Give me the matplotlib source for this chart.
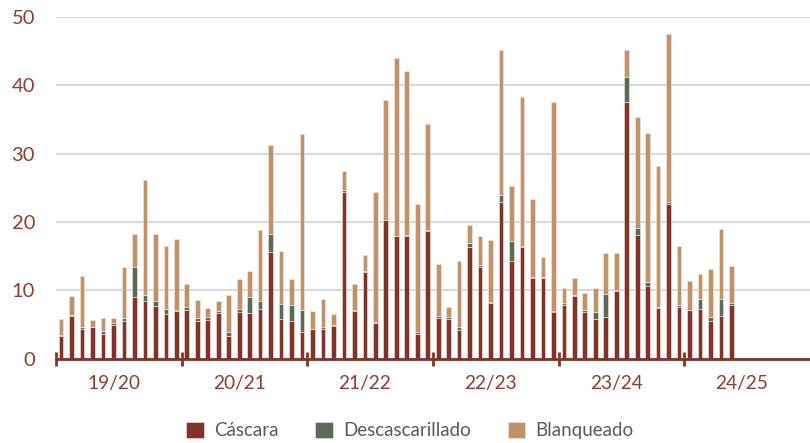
import numpy as np
import matplotlib.pyplot as plt

plt.rcParams['font.family'] = ['Lato', 'DejaVu Sans']

seasons = ['19/20', '20/21', '21/22', '22/23', '23/24', '24/25']
months_per_season = 12

cascara = [
    3.4, 6.2, 4.4, 4.6, 3.6, 5.0, 5.5, 9.0, 8.4, 7.7, 6.6, 7.0,
    7.2, 5.5, 5.7, 6.7, 3.3, 6.9, 6.7, 7.3, 15.6, 5.8, 5.5, 3.9,
    4.3, 4.4, 4.8, 24.4, 7.0, 12.7, 5.3, 20.25, 17.9, 18.0, 3.7, 18.7,
    5.9, 5.8, 4.2, 16.35, 13.4, 8.2, 23.0, 14.3, 16.35, 11.8, 11.85, 6.9,
    7.8, 9.2, 6.9, 5.8, 6.1, 9.95, 37.6, 18.15, 10.7, 7.45, 22.65, 7.6,
    7.1, 7.3, 5.5, 6.25, 7.8,
]
descascarillado = [
    0.1, 0.15, 0.3, 0.1, 0.4, 0.2, 0.5, 4.4, 0.9, 0.7, 0.7, 0.1,
    0.4, 0.4, 0.4, 0.25, 0.55, 0.4, 2.4, 1.2, 2.7, 2.15, 2.3, 3.3,
    0.1, 0.3, 0.1, 0.35, 0.1, 0.1, 0.1, 0.1, 0.1, 0.1, 0.25, 0.1,
    0.4, 0.25, 0.4, 0.55, 0.3, 0.1, 0.9, 2.9, 0.1, 0.1, 0.1, 0.05,
    0.3, 0.1, 0.3, 1.1, 3.4, 0.15, 3.6, 1.05, 0.6, 0.2, 0.35, 0.2,
    0.1, 1.4, 0.65, 2.55, 0.3,
]
blanqueado = [
    2.3, 2.85, 7.35, 1.05, 1.95, 0.75, 7.4, 4.8, 16.8, 9.9, 9.2, 10.4,
    3.4, 2.7, 1.4, 1.45, 5.45, 4.4, 3.8, 10.3, 13.0, 7.75, 3.9, 25.7,
    2.6, 4.0, 1.7, 2.75, 3.8, 2.4, 19.0, 17.55, 26.0, 24.0, 18.65, 15.6,
    7.6, 1.55, 9.75, 2.7, 4.2, 9.0, 21.3, 8.1, 21.85, 11.4, 2.95, 30.65,
    2.3, 2.45, 2.45, 3.45, 5.9, 5.4, 4.0, 16.2, 21.7, 20.55, 24.5, 8.7,
    4.2, 3.7, 6.95, 10.2, 5.5,
]

c_red = '#7F3329'
c_green = '#5B6B59'
c_tan = '#BF926A'
axis_color = '#7F3329'
label_color = '#8A3F33'

fig = plt.figure(figsize=(8.1, 4.43), dpi=100)
ax = fig.add_axes([0.069, 0.19, 0.931, 0.772])

x = np.arange(len(cascara))
red = np.array(cascara)
green = np.array(descascarillado)
tan = np.array(blanqueado)
w = 0.45
edge = dict(edgecolor='#f4ebe4', linewidth=0.4)
ax.bar(x, red, w, color=c_red, label='Cáscara', **edge)
ax.bar(x, green, w, bottom=red, color=c_green, label='Descascarillado', **edge)
ax.bar(x, tan, w, bottom=red + green, color=c_tan, label='Blanqueado', **edge)

n_slots = len(seasons) * months_per_season
ax.set_xlim(-0.5, n_slots - 0.5)
ax.set_ylim(0, 50)
ax.set_yticks(range(0, 51, 10))
ax.grid(axis='y', color='#D9D9D9', linewidth=1.5)
ax.set_axisbelow(True)

for s in ['top', 'right', 'left']:
    ax.spines[s].set_visible(False)
ax.spines['bottom'].set_color(axis_color)
ax.spines['bottom'].set_linewidth(2)
ax.spines['bottom'].set_zorder(5)

# season boundaries as crossing ticks, season names in between
bounds = np.arange(len(seasons)) * months_per_season - 0.5
ax.set_xticks(bounds)
ax.set_xticklabels([])
ax.tick_params(axis='x', which='major', direction='inout', length=10,
               width=2, color=axis_color)
centers = np.arange(len(seasons)) * months_per_season + 5.0
ax.set_xticks(centers, minor=True)
ax.set_xticklabels(seasons, minor=True)
ax.tick_params(axis='x', which='minor', length=0, pad=12,
               labelsize=13.8, labelcolor=label_color)
ax.tick_params(axis='y', length=0, pad=15, labelsize=14.5,
               labelcolor=label_color)

fig.legend(loc='center', bbox_to_anchor=(0.506, 0.028), ncol=3,
           frameon=False, fontsize=13.5, handlelength=0.95, handleheight=0.95,
           handletextpad=0.55, columnspacing=1.95, labelcolor='#595959')

fig.savefig('out.png', dpi=100)
